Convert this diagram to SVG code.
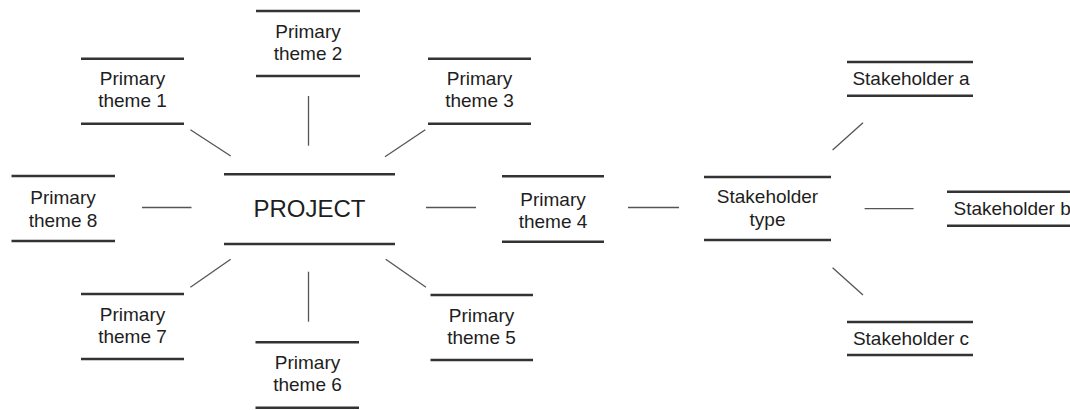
<svg xmlns="http://www.w3.org/2000/svg" width="1070" height="410" viewBox="0 0 1070 410">
<style>
.bar{stroke:#333;stroke-width:2.5;fill:none}
.con{stroke:#555;stroke-width:1.3;fill:none}
text{font-family:"Liberation Sans",Arial,sans-serif;font-size:19px;fill:#1e1e1e;text-anchor:middle}
.big{font-size:24px}
.st{text-anchor:start}
</style>
<rect width="1070" height="410" fill="#fff"/>
<g id="connectors">
<line class="con" x1="190.4" y1="129.7" x2="230.7" y2="156"/>
<line class="con" x1="308.5" y1="96" x2="308.5" y2="145.7"/>
<line class="con" x1="425.3" y1="129.7" x2="385" y2="156.7"/>
<line class="con" x1="142" y1="207.5" x2="191.5" y2="207.5"/>
<line class="con" x1="426" y1="207.5" x2="476" y2="207.5"/>
<line class="con" x1="230.7" y1="259.3" x2="190.4" y2="287.3"/>
<line class="con" x1="308.5" y1="271.7" x2="308.5" y2="321.7"/>
<line class="con" x1="385.7" y1="259.3" x2="426" y2="287.3"/>
<line class="con" x1="628" y1="207.5" x2="679" y2="207.5"/>
<line class="con" x1="832.6" y1="150" x2="863" y2="122.7"/>
<line class="con" x1="864.6" y1="208.7" x2="913.6" y2="208.7"/>
<line class="con" x1="832.6" y1="267.7" x2="863" y2="295"/>
</g>
<g id="project">
<line class="bar" x1="224" y1="174.3" x2="395" y2="174.3"/>
<line class="bar" x1="224" y1="244" x2="395" y2="244"/>
<text class="big" x="309.5" y="216.5">PROJECT</text>
</g>
<g id="theme1">
<line class="bar" x1="81" y1="58.7" x2="184" y2="58.7"/>
<line class="bar" x1="81" y1="123.7" x2="184" y2="123.7"/>
<text x="132.5" y="84.5">Primary</text>
<text x="132.5" y="107">theme 1</text>
</g>
<g id="theme2">
<line class="bar" x1="256" y1="11" x2="360" y2="11"/>
<line class="bar" x1="256" y1="76" x2="360" y2="76"/>
<text x="308" y="37.5">Primary</text>
<text x="308" y="60">theme 2</text>
</g>
<g id="theme3">
<line class="bar" x1="428" y1="58.7" x2="531" y2="58.7"/>
<line class="bar" x1="428" y1="123.7" x2="531" y2="123.7"/>
<text x="479.5" y="84.5">Primary</text>
<text x="479.5" y="107">theme 3</text>
</g>
<g id="theme4">
<line class="bar" x1="502" y1="176.3" x2="604" y2="176.3"/>
<line class="bar" x1="502" y1="241.7" x2="604" y2="241.7"/>
<text x="553" y="205.5">Primary</text>
<text x="553" y="228">theme 4</text>
</g>
<g id="theme5">
<line class="bar" x1="430.5" y1="295" x2="533" y2="295"/>
<line class="bar" x1="430.5" y1="360" x2="533" y2="360"/>
<text x="481.5" y="321.5">Primary</text>
<text x="481.5" y="344">theme 5</text>
</g>
<g id="theme6">
<line class="bar" x1="255.5" y1="342.3" x2="359" y2="342.3"/>
<line class="bar" x1="255.5" y1="407.7" x2="359" y2="407.7"/>
<text x="307.5" y="368.5">Primary</text>
<text x="307.5" y="391">theme 6</text>
</g>
<g id="theme7">
<line class="bar" x1="81" y1="294" x2="184" y2="294"/>
<line class="bar" x1="81" y1="359" x2="184" y2="359"/>
<text x="132.5" y="320.5">Primary</text>
<text x="132.5" y="343">theme 7</text>
</g>
<g id="theme8">
<line class="bar" x1="11.5" y1="176" x2="115" y2="176"/>
<line class="bar" x1="11.5" y1="241" x2="115" y2="241"/>
<text x="63" y="204">Primary</text>
<text x="63" y="226.5">theme 8</text>
</g>
<g id="stakeholder-type">
<line class="bar" x1="704" y1="177" x2="831" y2="177"/>
<line class="bar" x1="704" y1="240" x2="831" y2="240"/>
<text x="767.5" y="203">Stakeholder</text>
<text x="767.5" y="225.5">type</text>
</g>
<g id="stakeholder-a">
<line class="bar" x1="847" y1="62" x2="973" y2="62"/>
<line class="bar" x1="847" y1="95.7" x2="973" y2="95.7"/>
<text x="911" y="85">Stakeholder a</text>
</g>
<g id="stakeholder-b">
<line class="bar" x1="947" y1="191.7" x2="1072" y2="191.7"/>
<line class="bar" x1="947" y1="225.7" x2="1072" y2="225.7"/>
<text class="st" x="953.5" y="215">Stakeholder b</text>
</g>
<g id="stakeholder-c">
<line class="bar" x1="847" y1="322" x2="973" y2="322"/>
<line class="bar" x1="847" y1="355" x2="973" y2="355"/>
<text x="911" y="345">Stakeholder c</text>
</g>
</svg>
